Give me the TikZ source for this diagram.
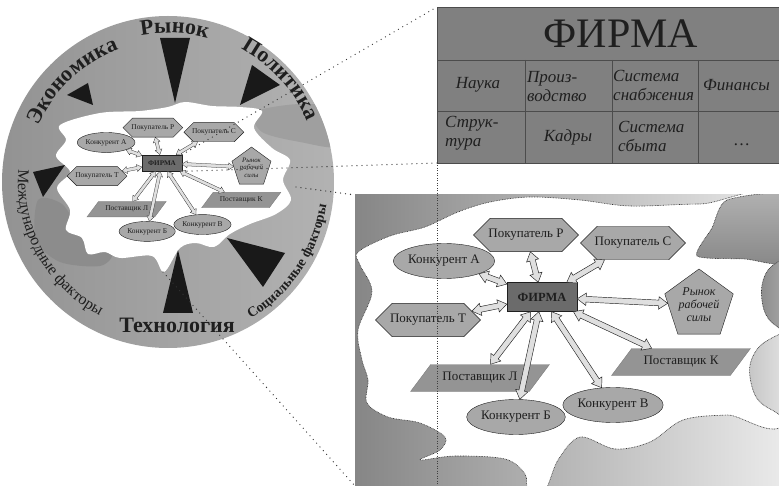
\documentclass[tikz,border=0pt]{standalone}
\usepackage{fontspec}
\setmainfont{Liberation Serif}
\usetikzlibrary{calc}
\usetikzlibrary{shapes.geometric,shapes.misc,shapes.arrows}
\usetikzlibrary{decorations.text}

\definecolor{nodegray}{gray}{0.66}
\definecolor{firmgray}{gray}{0.42}
\definecolor{suppgray}{gray}{0.58}
\definecolor{tablegray}{gray}{0.5}
\definecolor{inkgray}{gray}{0.12}

\tikzset{
  netnode/.style={draw=inkgray, fill=nodegray, text=inkgray, font=\fontsize{13}{15}\selectfont, inner sep=1pt},
  buyer/.style={netnode, chamfered rectangle, chamfered rectangle xsep=13pt, chamfered rectangle ysep=10pt, minimum width=105pt, minimum height=33pt},
  rival/.style={netnode, ellipse, minimum width=78pt, minimum height=35pt, inner sep=0pt},
  supplier/.style={netnode, draw=gray, fill=suppgray, trapezium, trapezium left angle=40, trapezium right angle=140, trapezium stretches=true, minimum width=139pt, minimum height=27pt},
  labour/.style={netnode, regular polygon, regular polygon sides=5, minimum size=72pt, inner sep=0pt, align=center, font=\itshape\fontsize{12}{13}\selectfont},
  firmbox/.style={draw=inkgray, fill=firmgray, text=inkgray, minimum width=70pt, minimum height=29pt, font=\bfseries\fontsize{12.5}{14}\selectfont},
  flowarrow/.style={double arrow, draw=inkgray, fill=gray!25, line width=0.45pt*#1, inner sep=2.6pt*#1, double arrow head extend=3.4pt*#1, double arrow tip angle=70},
  wedge/.style={fill=black!90},
  cell/.style={font=\itshape\fontsize{17}{19}\selectfont, text=inkgray, align=left, inner sep=0pt},
  tableline/.style={draw=black!70, line width=0.6pt},
  blobedge/.style={draw=gray!40!black, line width=0.6pt, dash pattern=on 0.8pt off 0.8pt},
  zoomline/.style={draw=black!80, line width=1.3pt, dash pattern=on 0pt off 5pt, line cap=round},
  guide/.style={draw=gray!50!black, line width=0.5pt, dash pattern=on 1pt off 1.5pt}
}

% double block arrow between two nodes, #1 = size factor
\newcommand\flowlink[3]{%
  \path (#2) -- (#3) coordinate[pos=0] (lkS) coordinate[pos=0.5] (lkM) coordinate[pos=1] (lkE);
  \path let \p1=(lkS), \p2=(lkE), \n1={atan2(\y2-\y1,\x2-\x1)}, \n2={veclen(\x2-\x1,\y2-\y1)} in
    node[flowarrow=#1, rotate=\n1, minimum height=\n2] (#3link) at (lkM) {};
}

% the firm and its partners, #1 = name prefix
\newcommand\firmnet[1]{%
  \node[firmbox] (#1F) at (0,0) {ФИРМА};
  \node[buyer] (#1P) at (-16,-62) {Покупатель Р};
  \node[buyer] (#1C) at (91,-54) {Покупатель С};
  \node[rival] (#1A) at (-98,-36) {Конкурент А};
  \node[buyer] (#1T) at (-114,23) {Покупатель Т};
  \node[labour] (#1M) at (157,8) {Рынок\\рабочей\\силы};
  \node[supplier] (#1K) at (139,65) {Поставщик К};
  \node[supplier] (#1L) at (-62,81) {Поставщик Л};
  \node[rival] (#1B) at (-26,120) {Конкурент Б};
  \node[rival] (#1V) at (71,108) {Конкурент В};
}
\newcommand\firmlinks[2]{%
  \foreach \t in {P,C,A,T,M,K,L,B,V}
    {\flowlink{#2}{#1F}{#1\t}}
}

\begin{document}
\begin{tikzpicture}[x=1pt, y=-1pt]
\useasboundingbox (0,0) rectangle (779,486);
\clip (0,0) rectangle (779,486);

% environment circle
\coordinate (cc) at (168,182);
\shade[left color=gray!85, middle color=gray!20, right color=gray!60] (cc) circle[radius=166pt];
\begin{scope}
  \clip (cc) circle[radius=166pt];
  \fill[gray!75] plot[smooth cycle] coordinates {(255,112) (300,104) (340,110) (340,146) (300,142) (262,132)};
  \fill[gray!90] plot[smooth cycle] coordinates {(38,200) (62,204) (82,232) (112,252) (100,266) (60,262) (36,240)};
  \fill[white] plot[smooth cycle, tension=0.55] coordinates {(60,125) (100,113) (140,111) (168,107) (185,102) (212,106) (240,107) (262,111) (254,128) (272,148) (290,160) (283,180) (291,200) (276,214) (250,224) (230,234) (214,247) (196,243) (180,248) (164,272) (152,256) (120,258) (105,252) (88,254) (82,238) (66,230) (70,210) (57,188) (70,172) (56,156) (66,140)};
\end{scope}
\fill[wedge] (160,38) -- (190,38) -- (175,103) -- cycle;
\fill[wedge] (67,95) -- (88,83) -- (93,105) -- cycle;
\fill[wedge] (252,65) -- (280,85) -- (240,105) -- cycle;
\fill[wedge] (33,172) -- (65,165) -- (43,197) -- cycle;
\fill[wedge] (163,313) -- (193,313) -- (178,250) -- cycle;
\fill[wedge] (227,238) -- (285,253) -- (263,287) -- cycle;

% factor labels
\path[decorate, decoration={text along path, text align=center, text color=inkgray,
  text={|\bfseries\fontsize{22}{22}\selectfont|Экономика}}]
  ($(cc)+(171:141pt)$) arc[start angle=171, end angle=96, radius=141pt];
\path[decorate, decoration={text along path, text align=center, text color=inkgray,
  text={|\bfseries\fontsize{22}{22}\selectfont|Рынок}}]
  ($(cc)+(125:149pt)$) arc[start angle=125, end angle=50, radius=149pt];
\path[decorate, decoration={text along path, text align=center, text color=inkgray,
  text={|\bfseries\fontsize{22}{22}\selectfont|Политика}}]
  ($(cc)+(85:152pt)$) arc[start angle=85, end angle=0, radius=152pt];
\path[decorate, decoration={text along path, text align=center, text color=inkgray,
  text={|\fontsize{16}{16}\selectfont|Международные факторы}}]
  ($(cc)+(150:150pt)$) arc[start angle=150, end angle=268, radius=150pt];
\path[decorate, decoration={text along path, text align=center, text color=inkgray,
  text={|\bfseries\fontsize{14}{14}\selectfont|Социальные факторы}}]
  ($(cc)+(-80:160pt)$) arc[start angle=-80, end angle=13, radius=160pt];
\node[anchor=base, text=inkgray, inner sep=0pt, font=\bfseries\fontsize{22}{22}\selectfont] (tech) at (177,332) {Технология};

% small copy of the firm
\begin{scope}[shift={(162,163)}, scale=0.57, transform shape]
  \firmnet{s}
\end{scope}
\firmlinks{s}{0.57}
\coordinate (blobE) at (296,187);
\coordinate (blobS) at (163,272);

% firm structure table
\coordinate (tabNW) at (437,7);
\coordinate (tabSW) at (437,163);
\coordinate (tabfoot) at (437,486);
\fill[tablegray] (tabNW) rectangle (805,163);
\draw[tableline] (tabNW) rectangle (805,163)
  (437,60) -- (805,60) (437,111) -- (805,111)
  (525,60) -- (525,163) (612,60) -- (612,163) (698,60) -- (698,163);
\node[text=inkgray, inner sep=0pt, font=\fontsize{42}{42}\selectfont] (title) at (621,34) {ФИРМА};
\node[cell] (c11) at (478,85) {Наука};
\node[cell, anchor=west] (c12) at (527,87) {Произ-\\водство};
\node[cell, anchor=west] (c13) at (613,85) {Система\\снабжения};
\node[cell, anchor=west] (c14) at (703,85) {Финансы};
\node[cell, anchor=west] (c21) at (445,133) {Струк-\\тура};
\node[cell] (c22) at (568,137) {Кадры};
\node[cell, anchor=west] (c23) at (618,136) {Система\\сбыта};
\node[cell] (c24) at (742,145) {\dots};

% enlarged market area
\coordinate (bigNW) at (355,195);
\coordinate (bigSW) at (355,486);
\shade[left color=gray!95, right color=gray!15] (bigNW) rectangle (790,490);
\begin{scope}
  \clip (bigNW) rectangle (779,486);
  \fill[white, blobedge] plot[smooth cycle, tension=0.55] coordinates {(358,252) (390,236) (425,227) (458,212) (490,202) (530,197) (580,200) (630,206) (700,204) (790,205) (790,415) (727,415) (683,420) (650,442) (615,449) (580,437) (558,460) (545,490) (528,490) (525,474) (505,459) (455,456) (420,460) (440,450) (445,437) (420,423) (388,417) (367,403) (368,380) (362,360) (358,330) (372,292) (360,265)};
  \shade[blobedge, top color=gray!60, bottom color=gray!95] plot[smooth cycle, tension=0.4] coordinates {(727,200) (790,196) (790,262) (745,259) (697,256) (712,228)};
  \shade[blobedge, left color=gray!90, right color=gray!60] plot[smooth cycle, tension=0.6] coordinates {(795,262) (772,266) (762,285) (764,310) (775,325) (795,330)};
  \shade[blobedge, left color=gray!45, right color=gray!15] plot[smooth cycle, tension=0.6] coordinates {(795,338) (765,342) (750,365) (755,395) (772,410) (795,414)};
\end{scope}
\begin{scope}[shift={(542,297)}]
  \firmnet{b}
\end{scope}
\firmlinks{b}{1}

% zoom lines
\draw[zoomline] (sF.north east) -- (tabNW);
\draw[zoomline] (sF.south east) -- (tabSW);
\draw[zoomline] (blobE) -- (bigNW);
\draw[zoomline] (blobS) -- (bigSW);
\draw[guide] (tabSW) -- (tabfoot);
\end{tikzpicture}
\end{document}
